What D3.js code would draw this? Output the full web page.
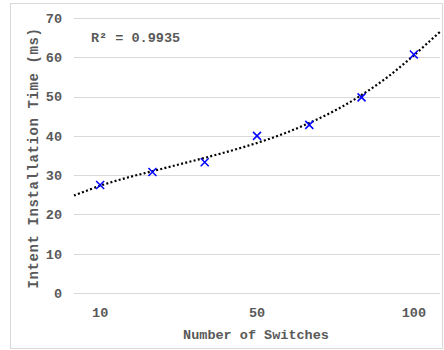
<!DOCTYPE html>
<html>
<head>
<meta charset="utf-8">
<script src="https://cdn.jsdelivr.net/npm/d3@7"></script>
<style>
  body { margin: 0; background: #fff; }
  text { font-family: "Liberation Mono", "Courier New", monospace; font-weight: bold; fill: #595959; }
</style>
</head>
<body>
<svg id="chart" width="444" height="350"></svg>
<script>
"use strict";

// categories on the x axis (only every 3rd one is labelled)
var switches = ["10", "20", "30", "50", "60", "80", "100"];
var shownLabels = ["10", "50", "100"];
// measured installation times (ms)
var installTimes = [27.5, 30.8, 33.3, 40.0, 42.8, 49.8, 60.7];
// dotted trend line, read at every half category from 0.5 to 7.5
var trendPos = [0.5, 1, 1.5, 2, 2.5, 3, 3.5, 4, 4.5, 5, 5.5, 6, 6.5, 7, 7.5];
var trendVals = [24.8, 27.3, 29.3, 31.0, 32.7, 34.4, 36.2, 38.2, 40.5, 43.3, 46.5, 50.4, 55.0, 60.5, 66.5];
var yTicks = [0, 10, 20, 30, 40, 50, 60, 70];
var r2Label = "R\u00b2 = 0.9935";

var svg = d3.select("#chart");

// outer frame
svg.append("rect")
  .attr("x", 10.5).attr("y", 3.5)
  .attr("width", 432).attr("height", 345)
  .attr("fill", "white")
  .attr("stroke", "#d9d9d9");

var plotLeft = 74, plotRight = 440, plotTop = 18, plotBottom = 293;

var x = d3.scaleBand().domain(switches).range([plotLeft, plotRight]).padding(0);
var xPos = d3.scaleLinear().domain([0.5, switches.length + 0.5]).range([plotLeft, plotRight]);
var y = d3.scaleLinear().domain([0, 70]).range([plotBottom, plotTop]);

// gridlines
svg.append("g")
  .selectAll("line")
  .data(yTicks)
  .enter()
  .append("line")
  .attr("x1", plotLeft).attr("x2", plotRight)
  .attr("y1", function(d) { return Math.round(y(d)) + 0.5; })
  .attr("y2", function(d) { return Math.round(y(d)) + 0.5; })
  .attr("stroke", "#d9d9d9")
  .attr("stroke-width", 1);

// y axis labels
var yAxis = svg.append("g")
  .attr("transform", "translate(62,0)")
  .call(d3.axisLeft(y).tickValues(yTicks).tickSize(0).tickPadding(0));
yAxis.select(".domain").remove();
yAxis.selectAll("text")
  .attr("font-size", 13.5)
  .attr("font-family", null)
  .attr("fill", null);

// x axis labels
var xAxis = svg.append("g")
  .attr("transform", "translate(0," + plotBottom + ")")
  .call(d3.axisBottom(x).tickValues(shownLabels).tickSize(0).tickPadding(14));
xAxis.select(".domain").remove();
xAxis.selectAll("text")
  .attr("font-size", 13.5)
  .attr("font-family", null)
  .attr("fill", null);

// trend line
var trend = trendPos.map(function(p, i) { return [p, trendVals[i]]; });
svg.append("path")
  .datum(trend)
  .attr("fill", "none")
  .attr("stroke", "black")
  .attr("stroke-width", 2.2)
  .attr("stroke-dasharray", "2,2.3")
  .attr("d", d3.line()
    .x(function(d) { return xPos(d[0]); })
    .y(function(d) { return y(d[1]); })
    .curve(d3.curveCatmullRom));

// markers
var marks = svg.append("g");
marks.selectAll("path")
  .data(installTimes)
  .enter()
  .append("path")
  .attr("transform", function(d, i) {
    return "translate(" + (x(switches[i]) + x.bandwidth() / 2) + "," + y(d) + ")";
  })
  .attr("d", "M-4,-4L4,4M-4,4L4,-4")
  .attr("stroke", "#0000ff")
  .attr("stroke-width", 1.5)
  .attr("fill", "none");

// R squared
svg.append("text")
  .attr("x", 91).attr("y", 42)
  .attr("font-size", 13.5)
  .text(r2Label);

// axis titles
svg.append("text")
  .attr("x", 256).attr("y", 339)
  .attr("text-anchor", "middle")
  .attr("font-size", 13.5)
  .text("Number of Switches");

svg.append("text")
  .attr("transform", "translate(38,158) rotate(-90)")
  .attr("text-anchor", "middle")
  .attr("font-size", 14)
  .attr("letter-spacing", 0.6)
  .text("Intent Installation Time (ms)");
</script>
</body>
</html>
